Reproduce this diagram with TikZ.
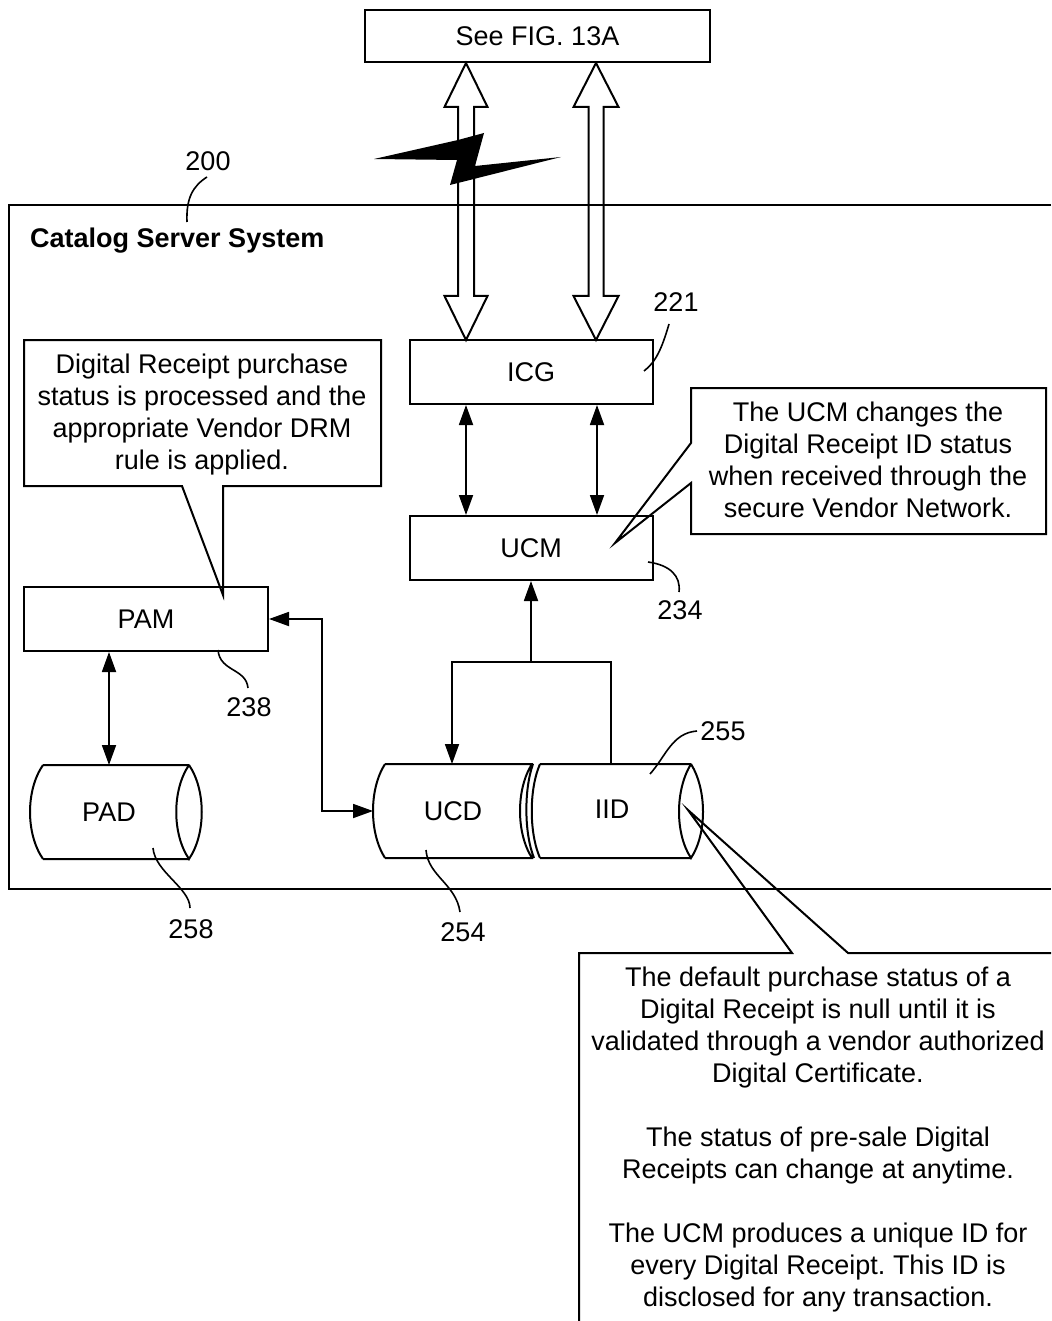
\documentclass[tikz,border=0pt]{standalone}
\usepackage{fontspec}
\setmainfont{Liberation Sans}
\usetikzlibrary{arrows.meta,calc}
\frenchspacing
\begin{document}
\begin{tikzpicture}[x=1pt,y=-1pt,
  every node/.style={font=\fontsize{27}{32}\selectfont, inner sep=0pt},
  box/.style={draw, line width=2pt, minimum width=243pt, minimum height=64pt},
  outl/.style={draw, line width=2pt, line join=miter},
  lead/.style={line width=1.6pt},
  conn/.style={line width=1.8pt},
  tipa/.style={-{Triangle[length=20pt,width=14pt]}},
  tipb/.style={{Triangle[length=20pt,width=14pt]}-{Triangle[length=20pt,width=14pt]}},
  ctext/.style={align=center}
]
\useasboundingbox (0,0) rectangle (1051,1321);

% frame of the system
\draw[line width=2.5pt] (1051,205) -- (9,205) -- (9,889) -- (1051,889);

% boxes
\node[box, minimum width=345pt, minimum height=52pt] (fig) at (537.5,36) {See FIG. 13A};
\node[box] (icg) at (531,372) {ICG};
\node[box] (ucm) at (531,548) {UCM};
\node[box, minimum width=244pt] (pam) at (146,619) {PAM};

% big hollow double arrows
\newcommand{\hollowdbl}[5]{%
 \draw[outl] (#1,#2) -- ({#1+#4},{#2+44}) -- ({#1+#5},{#2+44}) -- ({#1+#5},{#3-44}) -- ({#1+#4},{#3-44}) -- (#1,#3) -- ({#1-#4},{#3-44}) -- ({#1-#5},{#3-44}) -- ({#1-#5},{#2+44}) -- ({#1-#4},{#2+44}) -- cycle;}
\hollowdbl{466}{63}{340}{21.5}{8}
\hollowdbl{596}{63}{340}{22.5}{7.5}

% lightning bolt
\fill (374,159) -- (458,140) -- (484,133) -- (475,166) -- (561,157) -- (450,185) -- (457,160) -- cycle;

% labels
\node (l200) at (208,161) {200};
\node[font=\fontsize{27}{32}\selectfont\bfseries, anchor=west] (title) at (30,241) {Catalog Server System};
\node (l221) at (676,302) {221};
\node (l234) at (680,610) {234};
\node (l238) at (249,707) {238};
\node (l258) at (191,929) {258};
\node (l254) at (463,932) {254};
\node (l255) at (723,731) {255};

% leader lines
\draw[lead] (207,177) .. controls (193,186) and (186,198) .. (187,222);
\draw[lead] (669,324) .. controls (662,348) and (656,362) .. (644,371);
\draw[lead] (648,562) .. controls (670,565) and (681,576) .. (679,592);
\draw[lead] (218,650) .. controls (220,672) and (246,668) .. (248,688);
\draw[lead] (153,848) .. controls (155,872) and (190,888) .. (190,908);
\draw[lead] (426,850) .. controls (428,876) and (456,884) .. (460,912);
\draw[lead] (650,774) .. controls (666,756) and (672,733) .. (697,731);

% cylinders
\draw[outl] (43,765) -- (189,765) (43,859) -- (189,859)
  (43,765) .. controls (25.7,790) and (25.7,834) .. (43,859)
  (189,765) .. controls (206,790) and (206,834) .. (189,859)
  .. controls (172,834) and (172,790) .. (189,765);
\node (pad) at (109,812) {PAD};
\coordinate (padtop) at (109,765);

\draw[outl] (385,764) -- (533,764) (385,858) -- (533,858)
  (385,764) .. controls (369,789) and (369,833) .. (385,858)
  (532,764) .. controls (516,789) and (516,833) .. (532,858)
  (533,764) .. controls (524,789) and (524,833) .. (534,858);
\node (ucd) at (453,811) {UCD};
\coordinate (ucdleft) at (373,811);
\coordinate (ucdtop) at (452,764);

\draw[outl] (540,764) -- (691,764) (540,858) -- (691,858)
  (540,764) .. controls (529,789) and (529,833) .. (540,858)
  (691,764) .. controls (707,790) and (707,834) .. (691,858)
  .. controls (675,834) and (675,790) .. (691,764);
\node (iid) at (612,809) {IID};
\coordinate (iidtop) at (611,764);

% connectors
\coordinate (ca) at (466,0);
\coordinate (cb) at (597,0);
\draw[conn, tipb] (icg.south -| ca) -- (ucm.north -| ca);
\draw[conn, tipb] (icg.south -| cb) -- (ucm.north -| cb);
\draw[conn, tipb] (pam.south -| padtop) -- (padtop);
\coordinate (junc) at (531,662);
\draw[conn, tipa] (junc) -- (ucm.south);
\draw[conn, tipa] (iidtop) -- (iidtop |- junc) -- (ucdtop |- junc) -- (ucdtop);
\coordinate (bend) at (322,619);
\draw[conn, tipb] (pam.east) -- (bend) -- (bend |- ucdleft) -- (ucdleft);

% callouts
\draw[outl] (24,340) -- (381,340) -- (381,486) -- (223,486) -- (223,595) -- (182,486) -- (24,486) -- cycle;
\node[ctext] (c1) at (202,415) {Digital Receipt purchase\\status is processed and the\\appropriate Vendor DRM\\rule is applied.};

\draw[outl] (691,388) -- (1046,388) -- (1046,534) -- (691,534) -- (691,483) -- (615,543) -- (691,443) -- cycle;
\node[ctext] (c2) at (868,460) {The UCM changes the\\Digital Receipt ID status\\when received through the\\secure Vendor Network.};

\draw[outl] (579,1321) -- (579,953) -- (792,953) -- (688,810) -- (848,953) -- (1051,953);
\node[ctext] (c3) at (818,1139.5) {The default purchase status of a\\Digital Receipt is null until it is\\validated through a vendor authorized\\Digital Certificate.\\[32pt]The status of pre-sale Digital\\Receipts can change at anytime.\\[32pt]The UCM produces a unique ID for\\every Digital Receipt. This ID is\\disclosed for any transaction.};
\end{tikzpicture}
\end{document}
